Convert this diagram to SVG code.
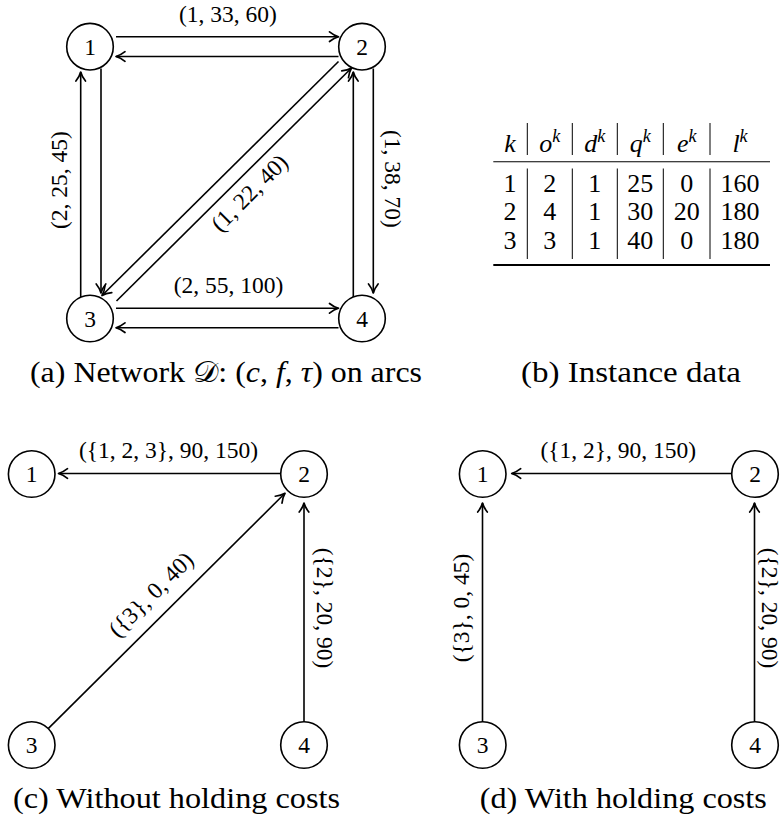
<svg xmlns="http://www.w3.org/2000/svg" width="784" height="818" viewBox="0 0 784 818">
<style>
  text { font-family: "Liberation Serif", serif; fill: #000; }
  .edge { stroke: #000; stroke-width: 1.6; fill: none; marker-end: url(#ah); }
  .node circle { fill: #fff; stroke: #000; stroke-width: 1.6; }
  .node text { font-size: 23.5px; text-anchor: middle; }
  .lbl { font-size: 23.5px; text-anchor: middle; }
  .cap { font-size: 29px; text-anchor: middle; }
  .tab { font-size: 26px; text-anchor: middle; }
  .i { font-style: italic; }
  .rule { stroke: #000; fill: none; }
  .cal { font-family: "DejaVu Sans", serif; }
</style>
<defs>
  <marker id="ah" markerUnits="userSpaceOnUse" orient="auto" refX="0" refY="0" markerWidth="20" markerHeight="20" overflow="visible">
    <path d="M-9,-4.8 C-5.5,-2 -2,-0.5 0,0 C-2,0.5 -5.5,2 -9,4.8" fill="none" stroke="#000" stroke-width="1.7" stroke-linecap="round" stroke-linejoin="round"/>
  </marker>
</defs>

<!-- ===== Panel (a) ===== -->
<g id="edges-a">
  <path class="edge" d="M116,36.7 L338.5,36.7"/>
  <path class="edge" d="M338.5,56.5 L116,56.5"/>
  <path class="edge" d="M116,308.3 L338.5,308.3"/>
  <path class="edge" d="M338.5,327.7 L116,327.7"/>
  <path class="edge" d="M80.7,297 L80.7,72"/>
  <path class="edge" d="M101,68.5 L101,293"/>
  <path class="edge" d="M353.3,297 L353.3,72"/>
  <path class="edge" d="M373.3,68.5 L373.3,293"/>
  <path class="edge" d="M338.5,61.5 L102,295.5"/>
  <path class="edge" d="M116.5,301 L351.5,68"/>
  <text class="lbl" x="228" y="21.7">(1, 33, 60)</text>
  <text class="lbl" x="228.5" y="293">(2, 55, 100)</text>
  <text class="lbl" transform="translate(66.7,180) rotate(-90)">(2, 25, 45)</text>
  <text class="lbl" transform="translate(385,179) rotate(90)">(1, 38, 70)</text>
  <text class="lbl" transform="translate(255,198.5) rotate(-45)">(1, 22, 40)</text>
</g>
<g id="a-n1" class="node"><circle cx="90" cy="46.7" r="23.3"/><text x="90" y="54.7">1</text></g>
<g id="a-n2" class="node"><circle cx="362" cy="46.7" r="23.3"/><text x="362" y="54.7">2</text></g>
<g id="a-n3" class="node"><circle cx="90" cy="318.5" r="23.3"/><text x="90" y="326.5">3</text></g>
<g id="a-n4" class="node"><circle cx="362" cy="318.5" r="23.3"/><text x="362" y="326.5">4</text></g>
<text class="cap" x="226" y="382" textLength="392" lengthAdjust="spacingAndGlyphs">(a) Network <tspan class="cal">𝒟</tspan>: (<tspan class="i">c</tspan>, <tspan class="i">f</tspan>, <tspan class="i">τ</tspan>) on arcs</text>

<!-- ===== Panel (b) table ===== -->
<g id="table-b">
  <line class="rule" x1="493.3" y1="161.7" x2="770" y2="161.7" stroke-width="1.1"/>
  <line class="rule" x1="493.3" y1="265" x2="770" y2="265" stroke-width="2"/>
  <g class="rule" stroke-width="1">
    <line x1="527.3" y1="123" x2="527.3" y2="155"/>
    <line x1="572.3" y1="123" x2="572.3" y2="155"/>
    <line x1="617.3" y1="123" x2="617.3" y2="155"/>
    <line x1="663.3" y1="123" x2="663.3" y2="155"/>
    <line x1="710" y1="123" x2="710" y2="155"/>
    <line x1="527.3" y1="168.5" x2="527.3" y2="259"/>
    <line x1="572.3" y1="168.5" x2="572.3" y2="259"/>
    <line x1="617.3" y1="168.5" x2="617.3" y2="259"/>
    <line x1="663.3" y1="168.5" x2="663.3" y2="259"/>
    <line x1="710" y1="168.5" x2="710" y2="259"/>
  </g>
  <text class="tab i" x="510" y="152">k</text>
  <text class="tab" x="549.8" y="152"><tspan class="i">o</tspan><tspan class="i" font-size="18" dy="-10">k</tspan></text>
  <text class="tab" x="594.8" y="152"><tspan class="i">d</tspan><tspan class="i" font-size="18" dy="-10">k</tspan></text>
  <text class="tab" x="640.3" y="152"><tspan class="i">q</tspan><tspan class="i" font-size="18" dy="-10">k</tspan></text>
  <text class="tab" x="686.7" y="152"><tspan class="i">e</tspan><tspan class="i" font-size="18" dy="-10">k</tspan></text>
  <text class="tab" x="740" y="152"><tspan class="i">l</tspan><tspan class="i" font-size="18" dy="-10">k</tspan></text>

  <text class="tab" x="510" y="192">1</text>
  <text class="tab" x="549.8" y="192">2</text>
  <text class="tab" x="594.8" y="192">1</text>
  <text class="tab" x="640.3" y="192">25</text>
  <text class="tab" x="686.7" y="192">0</text>
  <text class="tab" x="740" y="192">160</text>

  <text class="tab" x="510" y="220">2</text>
  <text class="tab" x="549.8" y="220">4</text>
  <text class="tab" x="594.8" y="220">1</text>
  <text class="tab" x="640.3" y="220">30</text>
  <text class="tab" x="686.7" y="220">20</text>
  <text class="tab" x="740" y="220">180</text>

  <text class="tab" x="510" y="248.5">3</text>
  <text class="tab" x="549.8" y="248.5">3</text>
  <text class="tab" x="594.8" y="248.5">1</text>
  <text class="tab" x="640.3" y="248.5">40</text>
  <text class="tab" x="686.7" y="248.5">0</text>
  <text class="tab" x="740" y="248.5">180</text>
</g>
<text class="cap" x="631" y="382" textLength="220" lengthAdjust="spacingAndGlyphs">(b) Instance data</text>

<!-- ===== Panel (c) ===== -->
<g id="edges-c">
  <path class="edge" d="M281,473.5 L58.5,473.5"/>
  <path class="edge" d="M48.2,728.6 L285,493.3"/>
  <path class="edge" d="M304,721.7 L304,503"/>
  <text class="lbl" x="168.5" y="458">({1, 2, 3}, 90, 150)</text>
  <text class="lbl" transform="translate(156.5,600) rotate(-45)">({3}, 0, 40)</text>
  <text class="lbl" transform="translate(316.5,608) rotate(90)">({2}, 20, 90)</text>
</g>
<g id="c-n1" class="node"><circle cx="31.7" cy="474" r="23.3"/><text x="31.7" y="482">1</text></g>
<g id="c-n2" class="node"><circle cx="304" cy="474" r="23.3"/><text x="304" y="482">2</text></g>
<g id="c-n3" class="node"><circle cx="31.7" cy="745" r="23.3"/><text x="31.7" y="753">3</text></g>
<g id="c-n4" class="node"><circle cx="304" cy="745" r="23.3"/><text x="304" y="753">4</text></g>
<text class="cap" x="176.5" y="808" textLength="327" lengthAdjust="spacingAndGlyphs">(c) Without holding costs</text>

<!-- ===== Panel (d) ===== -->
<g id="edges-d">
  <path class="edge" d="M731.7,473.5 L511.7,473.5"/>
  <path class="edge" d="M482.5,721.7 L482.5,503"/>
  <path class="edge" d="M754.5,721.7 L754.5,503"/>
  <text class="lbl" x="618.3" y="458">({1, 2}, 90, 150)</text>
  <text class="lbl" transform="translate(468.5,608) rotate(-90)">({3}, 0, 45)</text>
  <text class="lbl" transform="translate(762,608) rotate(90)">({2}, 20, 90)</text>
</g>
<g id="d-n1" class="node"><circle cx="482.7" cy="474" r="23.3"/><text x="482.7" y="482">1</text></g>
<g id="d-n2" class="node"><circle cx="755" cy="474" r="23.3"/><text x="755" y="482">2</text></g>
<g id="d-n3" class="node"><circle cx="482.7" cy="745" r="23.3"/><text x="482.7" y="753">3</text></g>
<g id="d-n4" class="node"><circle cx="755" cy="745" r="23.3"/><text x="755" y="753">4</text></g>
<text class="cap" x="623.3" y="808" textLength="287" lengthAdjust="spacingAndGlyphs">(d) With holding costs</text>
</svg>
